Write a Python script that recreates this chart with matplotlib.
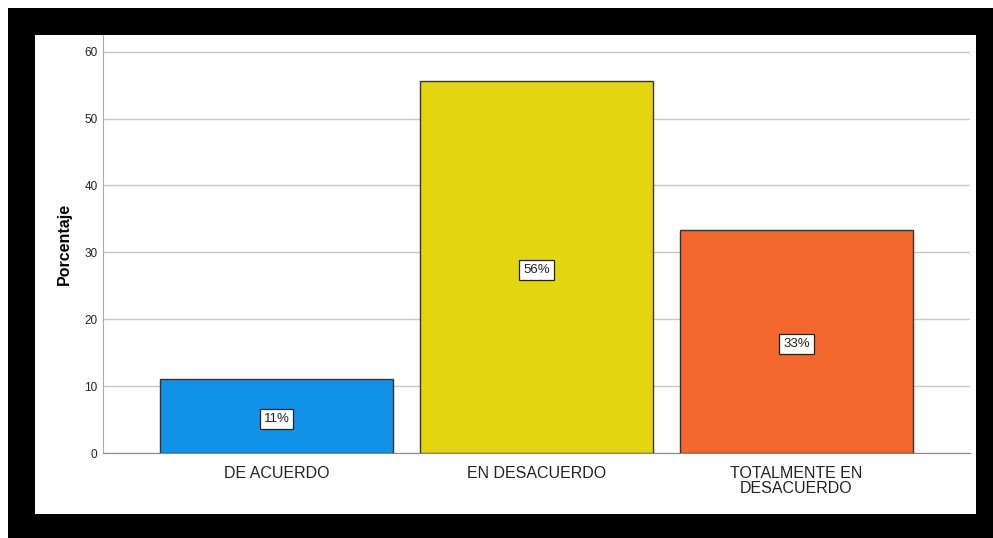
import matplotlib.pyplot as plt
from matplotlib.patches import Rectangle
import numpy as np

plt.rcParams['font.family'] = ['Liberation Sans', 'DejaVu Sans']

categorias = ['DE ACUERDO', 'EN DESACUERDO', 'TOTALMENTE EN\nDESACUERDO']
porcentajes = [11.1, 55.6, 33.3]
etiquetas = ['11%', '56%', '33%']
colores = ['#1192e8', '#e3d60e', '#f3682c']

W, H = 993, 538
fig = plt.figure(figsize=(W / 100, H / 100), dpi=100)
fig.patch.set_facecolor('white')
# black frame with white inner panel
fig.patches.append(Rectangle((8 / W, 0), 985 / W, 530 / H, transform=fig.transFigure,
                             facecolor='black', edgecolor='none', zorder=-10))
fig.patches.append(Rectangle((35 / W, 24 / H), 941 / W, 479 / H, transform=fig.transFigure,
                             facecolor='white', edgecolor='none', zorder=-9))

ax = fig.add_axes([103 / W, 85 / H, (970 - 103) / W, (453 - 35) / H])
ax.set_zorder(5)
ax.patch.set_alpha(0)

x = np.arange(len(categorias))
ax.bar(x, porcentajes, width=0.896, color=colores, edgecolor='#333333', linewidth=1, zorder=3)

for xi, v, lab in zip(x, porcentajes, etiquetas):
    ax.annotate(lab, (xi, v / 2), xytext=(0, -2), textcoords='offset points',
                ha='center', va='center', fontsize=9.5, color='#222222', zorder=4,
                bbox=dict(boxstyle='square,pad=0.3', facecolor='white', edgecolor='#222222', linewidth=0.9))

ax.set_xlim(-0.667, 2.667)
ax.set_ylim(0, 62.5)
ax.set_yticks([0, 10, 20, 30, 40, 50, 60])
ax.yaxis.grid(True, color='#c8c8c8', linewidth=1, zorder=0)
ax.set_xticks(x)
ax.set_xticklabels(categorias, fontsize=11.5, linespacing=1.05, color='#222222')
ax.tick_params(axis='y', labelsize=8.5, length=0, pad=4, labelcolor='#222222')
ax.tick_params(axis='x', length=0, pad=9)

for s in ['top', 'right']:
    ax.spines[s].set_visible(False)
ax.spines['left'].set_color('#aaaaaa')
ax.spines['bottom'].set_color('#888888')

ax.set_ylabel('Porcentaje', fontsize=11.5, fontweight='bold', labelpad=9)

fig.savefig('out.png', dpi=100)
